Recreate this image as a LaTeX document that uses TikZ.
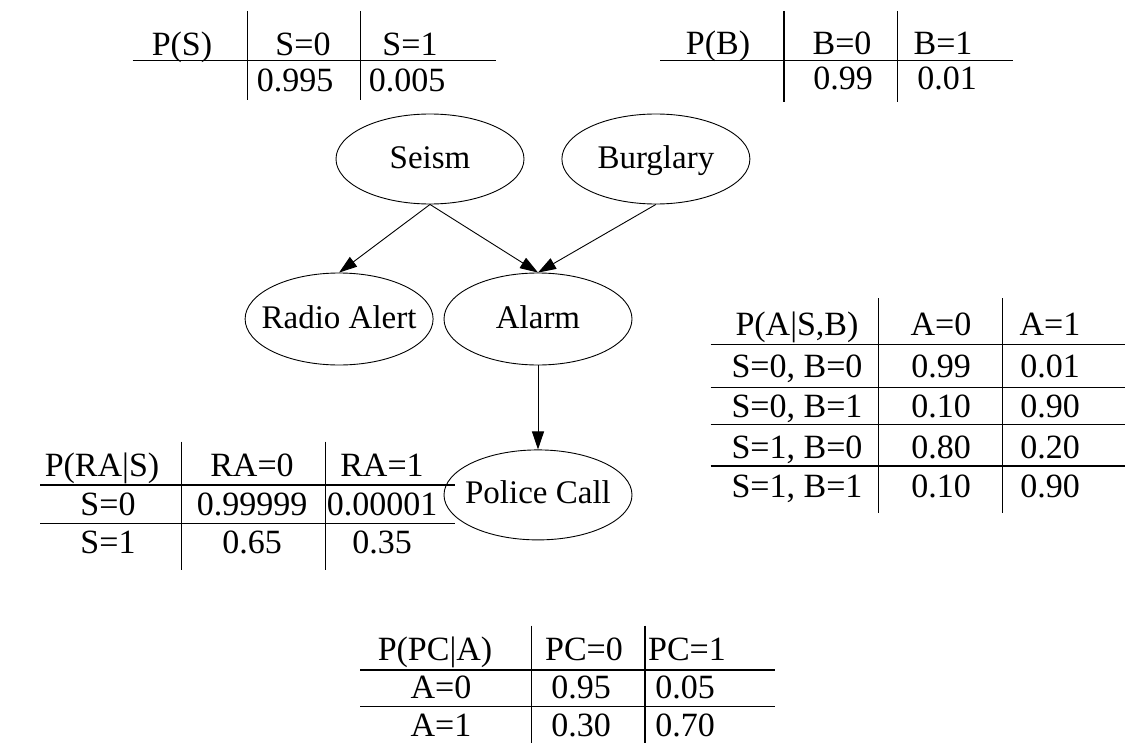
\documentclass[tikz,border=0pt]{standalone}
\usepackage{fontspec}
\setmainfont{Liberation Serif}
\usetikzlibrary{arrows.meta,positioning,shapes.geometric}

\begin{document}
\begin{tikzpicture}[
  x=1pt, y=-1pt,
  ell/.style={draw, ellipse, line width=0.9pt, minimum width=188pt, minimum height=90pt,
    inner xsep=-14pt, inner ysep=0pt, text height=23pt, text depth=5pt,
    font=\fontsize{33}{38}\selectfont},
  arr/.style={-{Triangle[length=18pt, width=12pt]}, line width=0.9pt},
  rule/.style={line width=1.2pt},
  cell/.style={anchor=base, inner sep=0pt, font=\fontsize{34}{40}\selectfont}
]
  \useasboundingbox (0,0) rectangle (1140,749);

  % network
  \node[ell] (seism) at (430,159) {Seism};
  \node[ell, right=37pt of seism] (burglary) {Burglary};
  \node[ell, minimum height=92pt] (alarm) at (538,319) {Alarm};
  \node[ell, minimum height=92pt, left=10pt of alarm] (radio) {Radio Alert};
  \node[ell, below=84pt of alarm] (police) {Police Call};

  \draw[arr] (seism.south) -- (radio.north);
  \draw[arr] (seism.south) -- (alarm.north);
  \draw[arr] (burglary.south) -- (alarm.north);
  \draw[arr] (alarm) -- (police);

  % P(S)
  \draw[rule] (132.7,60.7) -- (496,60.7);
  \draw[rule] (247.7,11) -- (247.7,100);
  \draw[rule] (360.7,11) -- (360.7,100);
  \node[cell] (ps) at (182,56) {P(S)};
  \node[cell] (ps-s0) at (303,56) {S=0};
  \node[cell] (ps-s1) at (410,56) {S=1};
  \node[cell] (ps-v0) at (295,91.5) {0.995};
  \node[cell] (ps-v1) at (407,91.5) {0.005};

  % P(B)
  \draw[rule] (660,60.7) -- (1013,60.7);
  \draw[rule] (784,11) -- (784,102);
  \draw[rule] (897.7,11) -- (897.7,102);
  \node[cell] (pb) at (718,55) {P(B)};
  \node[cell] (pb-b0) at (842,55) {B=0};
  \node[cell] (pb-b1) at (943,55) {B=1};
  \node[cell] (pb-v0) at (843,90) {0.99};
  \node[cell] (pb-v1) at (947,90) {0.01};

  % P(A|S,B)
  \draw[rule] (710.7,344.3) -- (1125,344.3);
  \draw[rule] (710.7,387.3) -- (1125,387.3);
  \draw[rule] (710.7,424.3) -- (1125,424.3);
  \draw[rule] (710.7,466) -- (1125,466);
  \draw[rule] (878.3,298) -- (878.3,513);
  \draw[rule] (1002.7,298) -- (1002.7,513);
  \node[cell] (pa) at (797,335) {P(A|S,B)};
  \node[cell] (pa-a0) at (941,335) {A=0};
  \node[cell] (pa-a1) at (1050,335) {A=1};
  \node[cell] (pa-r1) at (797,377) {S=0, B=0};
  \node[cell] (pa-r1a0) at (941,377) {0.99};
  \node[cell] (pa-r1a1) at (1050,377) {0.01};
  \node[cell] (pa-r2) at (797,417) {S=0, B=1};
  \node[cell] (pa-r2a0) at (941,417) {0.10};
  \node[cell] (pa-r2a1) at (1050,417) {0.90};
  \node[cell] (pa-r3) at (797,458) {S=1, B=0};
  \node[cell] (pa-r3a0) at (941,458) {0.80};
  \node[cell] (pa-r3a1) at (1050,458) {0.20};
  \node[cell] (pa-r4) at (797,497) {S=1, B=1};
  \node[cell] (pa-r4a0) at (941,497) {0.10};
  \node[cell] (pa-r4a1) at (1050,497) {0.90};

  % P(RA|S)
  \draw[rule] (40,485) -- (455,485);
  \draw[rule] (40,523.3) -- (455,523.3);
  \draw[rule] (181.7,441.7) -- (181.7,570);
  \draw[rule] (325.3,441.7) -- (325.3,570);
  \node[cell] (pra) at (102,476.7) {P(RA|S)};
  \node[cell] (pra-ra0) at (252,476.7) {RA=0};
  \node[cell] (pra-ra1) at (382,476.7) {RA=1};
  \node[cell] (pra-s0) at (108,515) {S=0};
  \node[cell] (pra-s0v0) at (252,515) {0.99999};
  \node[cell] (pra-s0v1) at (382,515) {0.00001};
  \node[cell] (pra-s1) at (108,553) {S=1};
  \node[cell] (pra-s1v0) at (252,553) {0.65};
  \node[cell] (pra-s1v1) at (382,553) {0.35};

  % P(PC|A)
  \draw[rule] (360,670) -- (775,670);
  \draw[rule] (360,706.7) -- (775,706.7);
  \draw[rule] (531.7,625.7) -- (531.7,743);
  \draw[rule] (645,625.7) -- (645,743);
  \node[cell] (ppc) at (435,660) {P(PC|A)};
  \node[cell] (ppc-pc0) at (584,660) {PC=0};
  \node[cell] (ppc-pc1) at (687,660) {PC=1};
  \node[cell] (ppc-a0) at (441,698.3) {A=0};
  \node[cell] (ppc-a0v0) at (581,698.3) {0.95};
  \node[cell] (ppc-a0v1) at (685,698.3) {0.05};
  \node[cell] (ppc-a1) at (441,736.7) {A=1};
  \node[cell] (ppc-a1v0) at (581,736.7) {0.30};
  \node[cell] (ppc-a1v1) at (685,736.7) {0.70};
\end{tikzpicture}
\end{document}
